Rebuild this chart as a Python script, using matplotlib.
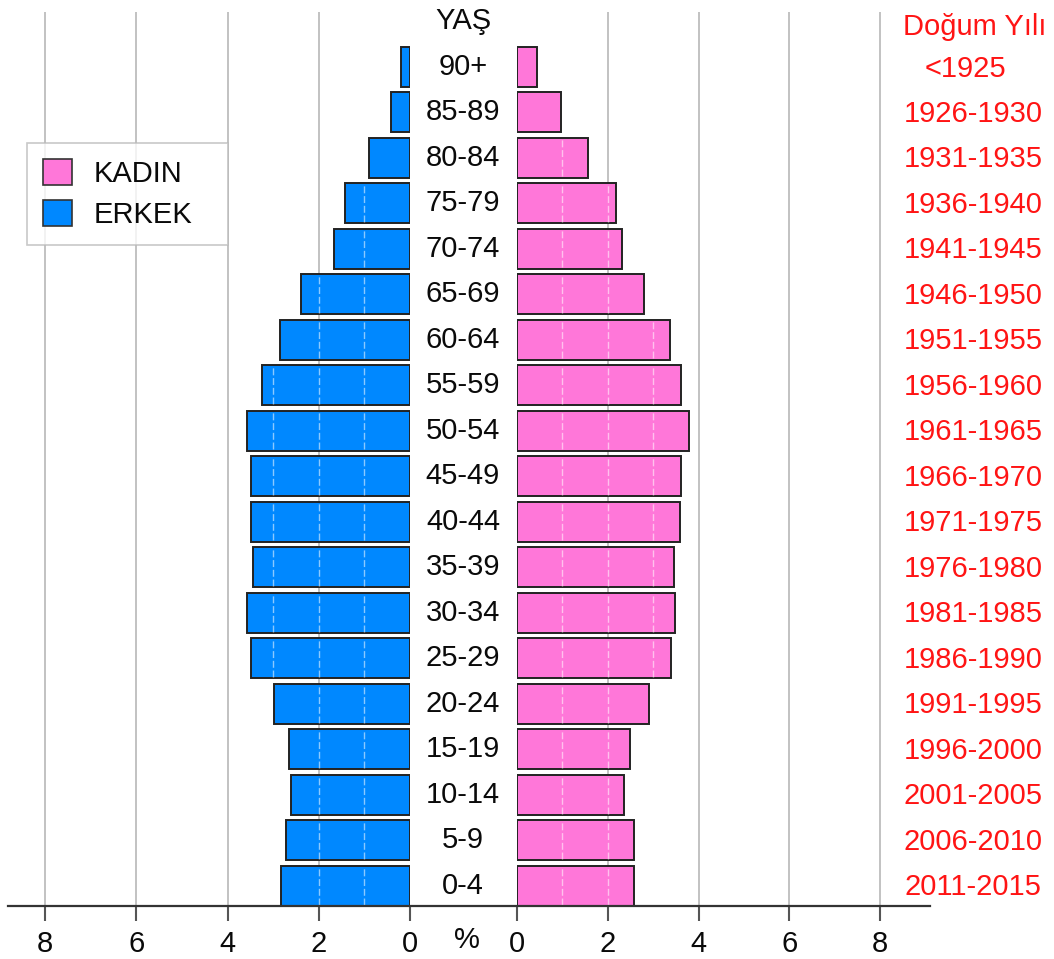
"""Population pyramid (YAŞ / Doğum Yılı) recreated with matplotlib."""
import matplotlib
matplotlib.use("Agg")
import matplotlib.pyplot as plt
import matplotlib.transforms as mtransforms
from matplotlib.patches import Patch
from matplotlib.lines import Line2D

plt.rcParams["font.family"] = ["Liberation Sans", "DejaVu Sans"]

# data (bottom to top)
ages = ["0-4", "5-9", "10-14", "15-19", "20-24", "25-29", "30-34", "35-39",
        "40-44", "45-49", "50-54", "55-59", "60-64", "65-69", "70-74",
        "75-79", "80-84", "85-89", "90+"]
birth_years = ["2011-2015", "2006-2010", "2001-2005", "1996-2000", "1991-1995",
               "1986-1990", "1981-1985", "1976-1980", "1971-1975", "1966-1970",
               "1961-1965", "1956-1960", "1951-1955", "1946-1950", "1941-1945",
               "1936-1940", "1931-1935", "1926-1930", "<1925"]
erkek = [2.83, 2.72, 2.61, 2.65, 2.98, 3.49, 3.57, 3.44, 3.48, 3.49,
         3.57, 3.25, 2.85, 2.39, 1.67, 1.42, 0.90, 0.42, 0.20]
kadin = [2.58, 2.58, 2.36, 2.49, 2.91, 3.39, 3.48, 3.46, 3.59, 3.61,
         3.79, 3.61, 3.37, 2.80, 2.31, 2.18, 1.56, 0.97, 0.44]
ticks = [0, 2, 4, 6, 8]

BLUE = "#0088ff"
PINK = "#ff77d9"
RED = "#ff1414"
GRID = "#bdbdbd"
INK = "#0a0a0a"
FS = 21

W, H = 1054, 959
fig = plt.figure(figsize=(W / 100, H / 100), dpi=100)

bottom = 1 - 906 / H
top = 1 - 12 / H
ax_l = fig.add_axes([10 / W, bottom, (410 - 10) / W, top - bottom])
ax_r = fig.add_axes([517 / W, bottom, (930 - 517) / W, top - bottom])

ypos = list(range(len(ages)))
bar_h = 0.88
ylim = (-bar_h / 2, 19.2)

for ax, vals, color, xmax in [(ax_l, erkek, BLUE, 8.77), (ax_r, kadin, PINK, 9.1)]:
    ax.barh(ypos, vals, height=bar_h, color=color, edgecolor="#222222",
            linewidth=1.4, zorder=2)
    # faint white lines running through the bars
    for y, v in zip(ypos, vals):
        xs = [k for k in range(1, 9) if k < v]
        if xs:
            ax.vlines(xs, y - bar_h / 2 + 0.03, y + bar_h / 2 - 0.03, color="white",
                      alpha=0.55, linewidth=1, linestyle=(0, (5, 2)), zorder=3)
    for t in ticks[1:]:
        ax.axvline(t, color=GRID, linewidth=1.3, zorder=0)
    ax.set_xlim(0, xmax)
    ax.set_ylim(*ylim)
    ax.set_yticks([])
    ax.set_xticks(ticks)
    ax.set_xticklabels([str(t) for t in ticks])
    ax.tick_params(axis="x", length=11, width=1.5, color="#555555",
                   labelsize=FS, labelcolor=INK, pad=6, direction="out")
    for s in ax.spines.values():
        s.set_visible(False)
    ax.patch.set_alpha(0)

ax_l.invert_xaxis()

# continuous baseline across both halves
fig.add_artist(Line2D([8 / W, 930 / W], [bottom, bottom], color="#333333",
                      linewidth=1.6, transform=fig.transFigure))

# age labels in the middle, birth years on the right
blend = mtransforms.blended_transform_factory(fig.transFigure, ax_l.transData)
for y, age, yr in zip(ypos, ages, birth_years):
    fig.text(463 / W, y, age, transform=blend, ha="center", va="center",
             fontsize=FS, color=INK)
    if yr.startswith("<"):
        fig.text(965 / W, y - 0.05, yr, transform=blend, ha="center", va="center",
                 fontsize=FS, color=RED)
    else:
        fig.text(973 / W, y - 0.03, yr, transform=blend, ha="center", va="center",
                 fontsize=FS, color=RED)

fig.text(463 / W, 19.0, "YAŞ", transform=blend, ha="center", va="center",
         fontsize=FS, color=INK)
fig.text(975 / W, 18.86, "Doğum Yılı", transform=blend, ha="center", va="center",
         fontsize=FS, color=RED)
fig.text(467 / W, 1 - 940 / H, "%", ha="center", va="center", fontsize=FS,
         color=INK)

handles = [Patch(facecolor=PINK, edgecolor="#333333", linewidth=1.2, label="KADIN"),
           Patch(facecolor=BLUE, edgecolor="#333333", linewidth=1.2, label="ERKEK")]
leg = fig.legend(handles=handles, loc="upper left",
                 bbox_to_anchor=(27 / W, 1 - 239 / H, 201 / W, 96 / H),
                 mode="expand", prop={"size": FS},
                 frameon=True, fancybox=False, handlelength=1.0, handleheight=1.0,
                 handletextpad=0.75, borderpad=0.55, labelspacing=0.4,
                 borderaxespad=0)
for t in leg.get_texts():
    t.set_color(INK)
leg.get_frame().set_edgecolor("#bbbbbb")
leg.get_frame().set_linewidth(1.2)

fig.savefig("out.png", dpi=100)
